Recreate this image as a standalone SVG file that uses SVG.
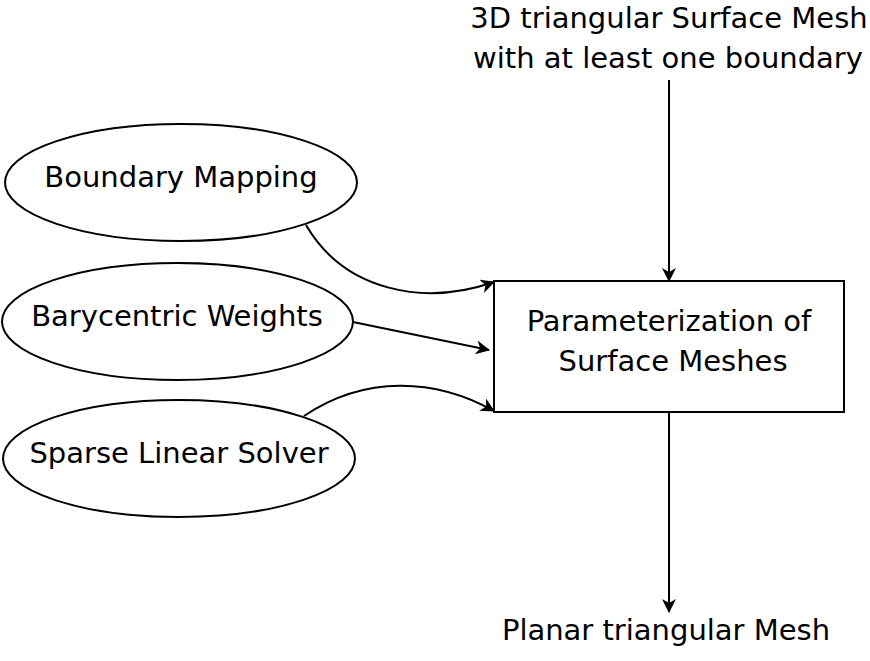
<svg xmlns="http://www.w3.org/2000/svg" width="870" height="661" viewBox="0 0 870 661">
<style>
text{font-family:"DejaVu Sans",sans-serif;font-size:29px;fill:#000;text-anchor:middle}
.n{fill:#fff;stroke:#000;stroke-width:2}
.c{fill:none;stroke:#000;stroke-width:2;marker-end:url(#a)}
</style>
<defs>
<marker id="a" markerWidth="14" markerHeight="14" refX="13" refY="7" orient="auto" markerUnits="userSpaceOnUse">
<path d="M0,0 L14,7 L0,14 L4,7 Z" fill="#000"/>
</marker>
</defs>
<rect width="870" height="661" fill="#fff"/>
<g id="input"><text x="669" y="28">3D triangular Surface Mesh</text><text x="668" y="68">with at least one boundary</text></g>
<g id="boundary"><ellipse class="n" cx="181" cy="182.5" rx="176" ry="58.5"/><text x="181" y="187">Boundary Mapping</text></g>
<g id="weights"><ellipse class="n" cx="177.5" cy="321.5" rx="175.5" ry="58.5"/><text x="177" y="326">Barycentric Weights</text></g>
<g id="solver"><ellipse class="n" cx="179" cy="458.5" rx="176" ry="58.5"/><text x="179" y="463">Sparse Linear Solver</text></g>
<g id="param"><rect class="n" x="494" y="281" width="350" height="131"/><text x="669" y="331">Parameterization of</text><text x="673" y="371">Surface Meshes</text></g>
<g id="output"><text x="666" y="640">Planar triangular Mesh</text></g>
<g id="connectors">
<path class="c" d="M669,80 L669,281"/>
<path class="c" d="M669,412 L669,612"/>
<path class="c" d="M306,225 C345,292 425,306 494,282"/>
<path class="c" d="M353,322 L489,350"/>
<path class="c" d="M304,416 C365,375 435,378 494,411"/>
</g>
</svg>
